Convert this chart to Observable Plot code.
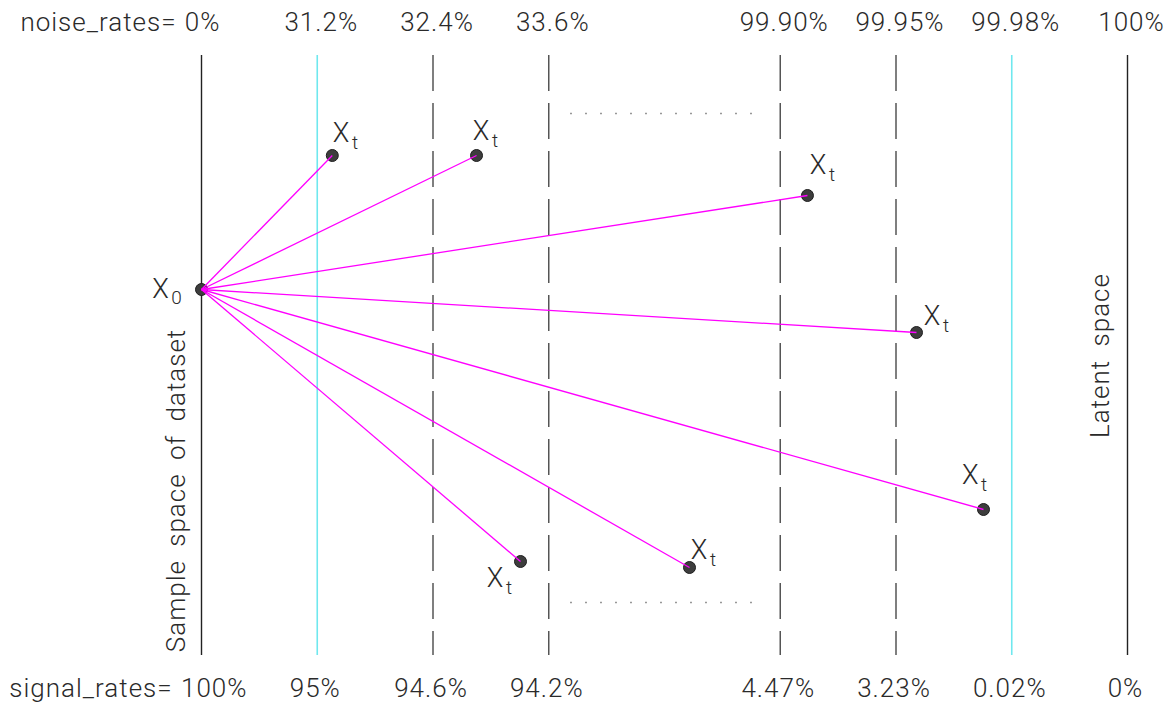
<!DOCTYPE html>
<html>
<head>
<meta charset="utf-8">
<script src="https://cdn.jsdelivr.net/npm/d3@7"></script>
<script src="https://cdn.jsdelivr.net/npm/@observablehq/plot@0.6"></script>
<style>
  html, body { margin: 0; padding: 0; background: #fff; }
  #chart svg { display: block; }
  #chart svg text { letter-spacing: 1px; word-spacing: 1px; }
</style>
</head>
<body>
<div id="chart"></div>
<script>
// Vertical guide lines (positions in step units) and their kinds
const linePos = [0, 1, 2, 3, 5, 6, 7, 8];
const lineKind = ["solid", "cyan", "dashed", "dashed", "dashed", "dashed", "cyan", "solid"];
const noiseLabels = ["noise_rates= 0%", "31.2%", "32.4%", "33.6%", "99.90%", "99.95%", "99.98%", "100%"];
const signalLabels = ["signal_rates= 100%", "95%", "94.6%", "94.2%", "4.47%", "3.23%", "0.02%", "0%"];

// Origin sample
const x0Point = [0, 234];
// Noisy samples X_t
const xtX = [1.13, 2.376, 5.235, 6.177, 6.756, 2.756, 4.216];
const xtY = [100, 100, 140, 277, 454, 506, 512];
// Label anchor positions for X_t
const labX = [1.21, 2.42, 5.33, 6.316, 6.645, 2.54, 4.303];
const labY = [78, 76, 110, 261, 420, 523, 495];

// Dotted ellipsis rows
const dotRowsY = [58, 547];
const dotRowX = [3.19, 4.83];

const lines = linePos.map((p, i) => ({p, kind: lineKind[i], top: noiseLabels[i], bottom: signalLabels[i], i}));
const pts = xtX.map((x, i) => ({x, y: xtY[i], lx: labX[i], ly: labY[i]}));
const links = pts.map(d => ({x1: x0Point[0], y1: x0Point[1], x2: d.x, y2: d.y}));

const font = "Roboto, 'Open Sans', 'DejaVu Sans', sans-serif";
const fs = 26;
const ink = "#2a2a2a";

const plot = Plot.plot({
  width: 1164,
  height: 708,
  margin: 0,
  x: {type: "linear", domain: [0, 8], range: [201, 1127], axis: null},
  y: {type: "linear", domain: [0, 600], range: [55, 655], axis: null},
  style: {fontFamily: font, background: "#fff"},
  marks: [
    Plot.ruleX(lines.filter(d => d.kind === "solid"), {x: "p", y1: 0, y2: 600, stroke: "#222", strokeWidth: 1.4}),
    Plot.ruleX(lines.filter(d => d.kind === "cyan"), {x: "p", y1: 0, y2: 600, stroke: "#6fe8ee", strokeWidth: 1.6}),
    Plot.ruleX(lines.filter(d => d.kind === "dashed"), {x: "p", y1: 0, y2: 600, stroke: "#555", strokeWidth: 1.5, strokeDasharray: "36,12"}),
    Plot.ruleY(dotRowsY, {y: d => d, x1: dotRowX[0], x2: dotRowX[1], stroke: "#777", strokeWidth: 1.5, strokeDasharray: "1.5,13.5"}),
    // top labels
    Plot.text(lines.filter(d => d.i === 0), {x: "p", y: 0, text: "top", dx: 19, dy: -33, textAnchor: "end", fontSize: fs, fontWeight: 300, fill: ink}),
    Plot.text(lines.filter(d => d.i > 0), {x: "p", y: 0, text: "top", dx: 4, dy: -33, fontSize: fs, fontWeight: 300, fill: ink}),
    // bottom labels
    Plot.text(lines.filter(d => d.i === 0), {x: "p", y: 600, text: "bottom", dx: 46, dy: 33, textAnchor: "end", fontSize: fs, fontWeight: 300, fill: ink}),
    Plot.text(lines.filter(d => d.i > 0), {x: "p", y: 600, text: "bottom", dx: -2, dy: 33, fontSize: fs, fontWeight: 300, fill: ink}),
    // rotated space labels
    Plot.text(["Sample space of dataset"], {x: -0.216, y: 435, text: d => d, rotate: -90, fontSize: fs, fontWeight: 300, fill: ink}),
    Plot.text(["Latent space"], {x: 7.767, y: 300, text: d => d, rotate: -90, fontSize: fs, fontWeight: 300, fill: ink}),
    // points
    Plot.dot(pts, {x: "x", y: "y", r: 6, fill: "#3d3d3d", stroke: "#1e1e1e", strokeWidth: 1}),
    Plot.dot([x0Point], {x: d => d[0], y: d => d[1], r: 6, fill: "#3d3d3d", stroke: "#1e1e1e", strokeWidth: 1}),
    // links
    Plot.link(links, {x1: "x1", y1: "y1", x2: "x2", y2: "y2", stroke: "#ff00ff", strokeWidth: 1.3}),
    // labels X_t
    Plot.text(pts, {x: "lx", y: "ly", text: () => "X", fontSize: 27, fontWeight: 300, fill: ink}),
    Plot.text(pts, {x: "lx", y: "ly", text: () => "t", dx: 14, dy: 9, fontSize: 19, fontWeight: 300, fill: ink}),
    // label X_0
    Plot.text([x0Point], {x: () => -0.35, y: d => d[1], text: () => "X", fontSize: 27, fontWeight: 300, fill: ink}),
    Plot.text([x0Point], {x: () => -0.35, y: d => d[1], text: () => "0", dx: 16, dy: 8, fontSize: 19, fontWeight: 300, fill: ink})
  ]
});
d3.select(plot).selectAll("text")
  .filter(function () { return /space/.test(this.textContent); })
  .style("word-spacing", "6px");
document.getElementById("chart").appendChild(plot);
</script>
</body>
</html>
